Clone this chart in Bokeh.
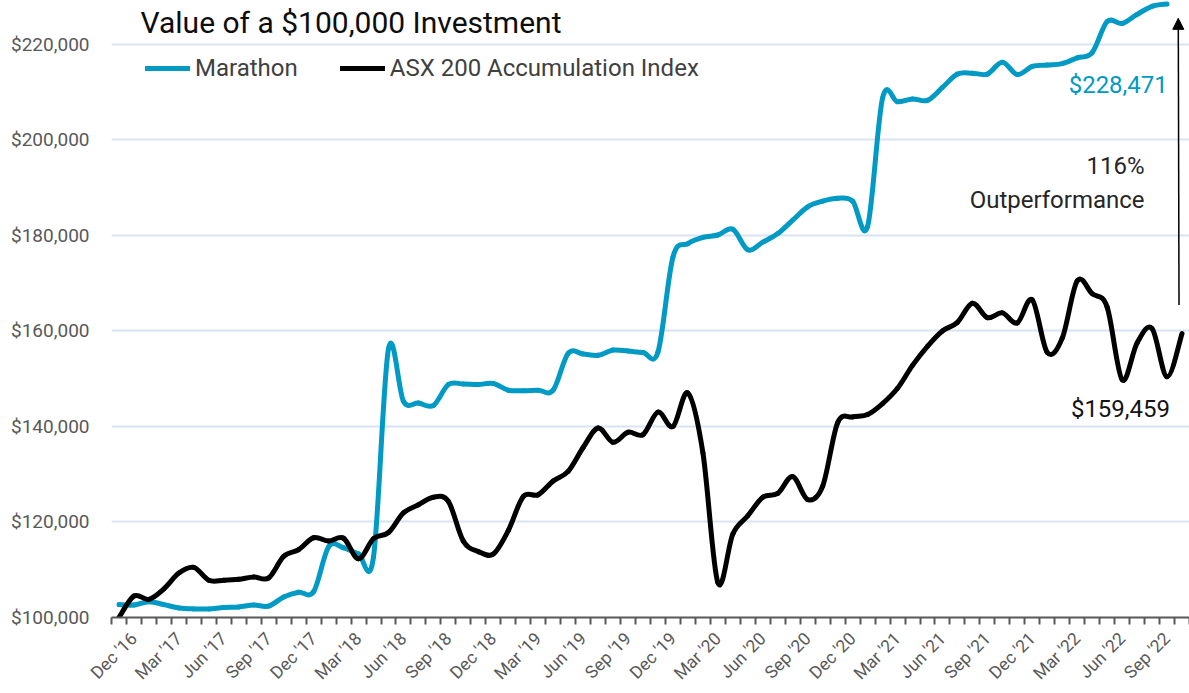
import math
from bokeh.plotting import figure
from bokeh.models import Range1d, FixedTicker, NumeralTickFormatter, Label, Arrow, NormalHead
from bokeh.embed import file_html
from bokeh.resources import INLINE

# ---------------- data (monthly, first point = Dec '16) ----------------
marathon = [102700, 102600, 103300, 102700, 102000, 101800, 101800, 102100, 102200, 102600,
            102400, 104300, 105300, 105400, 114800, 114600, 113300, 112700, 156300, 145300,
            144900, 144400, 148800, 148900, 148800, 149000, 147600, 147500, 147600, 147600,
            155300, 155200, 154900, 156000, 155800, 155500, 155600, 175500, 178300, 179600,
            180100, 181300, 177000, 178600, 180400, 183200, 186000, 187200, 187800, 187200,
            181900, 208800, 208000, 208600, 208300, 211000, 213800, 214000, 213800, 216300,
            213700, 215400, 215700, 216000, 217200, 218300, 224800, 224400, 226300, 228000,
            228471]

asx200 = [100000, 104500, 103800, 106000, 109300, 110500, 107800, 107800, 108000, 108500,
          108300, 112800, 114200, 116700, 116000, 116600, 112300, 116500, 117800, 121900,
          123600, 125200, 124300, 116000, 113800, 113300, 118200, 125300, 125700, 128600,
          130600, 135600, 139700, 136700, 138800, 138300, 143000, 140000, 147000, 134500,
          107300, 117500, 121300, 125200, 126000, 129500, 124700, 127500, 140800, 142000,
          142500, 144800, 148000, 152800, 156800, 160000, 161800, 165800, 162800, 163800,
          161700, 166500, 155500, 158500, 170500, 167800, 165000, 149800, 157500, 160500,
          150400, 159459]

tick_labels = ["Dec '16", "Mar '17", "Jun '17", "Sep '17", "Dec '17", "Mar '18", "Jun '18",
               "Sep '18", "Dec '18", "Mar '19", "Jun '19", "Sep '19", "Dec '19", "Mar '20",
               "Jun '20", "Sep '20", "Dec '20", "Mar '21", "Jun '21", "Sep '21", "Dec '21",
               "Mar '22", "Jun '22", "Sep '22"]

y_ticks = [100000, 120000, 140000, 160000, 180000, 200000, 220000]

BLUE = "#009ac4"
BLACK = "#000000"
FONT = "Roboto"


def smooth_segments(vals):
    """Cubic Bezier segments (Catmull-Rom style smoothing, like a smoothed Excel line)."""
    n = len(vals)
    xs = list(range(n))

    def P(i):
        i = max(0, min(n - 1, i))
        return xs[i], vals[i]

    seg = {k: [] for k in ("x0", "y0", "x1", "y1", "cx0", "cy0", "cx1", "cy1")}
    for i in range(n - 1):
        xa, ya = P(i)
        xb, yb = P(i + 1)
        xp, yp = P(i - 1)
        xn, yn = P(i + 2)
        seg["x0"].append(xa); seg["y0"].append(ya)
        seg["x1"].append(xb); seg["y1"].append(yb)
        seg["cx0"].append(xa + (xb - xp) / 6.0); seg["cy0"].append(ya + (yb - yp) / 6.0)
        seg["cx1"].append(xb - (xn - xa) / 6.0); seg["cy1"].append(yb - (yn - ya) / 6.0)
    return seg


n_cat = len(asx200)
p = figure(width=1189, height=693, output_backend="svg", toolbar_location=None,
           x_range=Range1d(-0.5, n_cat - 0.5), y_range=Range1d(100000, 229210),
           min_border_left=111, min_border_right=0, min_border_top=0, min_border_bottom=75)
p.outline_line_color = None
p.background_fill_color = "white"
p.border_fill_color = "white"

# ---- series ----
p.bezier(**smooth_segments(marathon), line_color=BLUE, line_width=5, line_cap="round",
         legend_label="Marathon")
p.bezier(**smooth_segments(asx200), line_color=BLACK, line_width=5, line_cap="round",
         legend_label="ASX 200 Accumulation Index")

# ---- axes ----
p.xgrid.visible = False
p.ygrid.grid_line_color = "#d9e3f4"
p.ygrid.grid_line_width = 2
p.ygrid.ticker = FixedTicker(ticks=y_ticks[1:])

yax = p.yaxis[0]
yax.ticker = FixedTicker(ticks=y_ticks)
yax.formatter = NumeralTickFormatter(format="$0,0")
yax.axis_line_color = None
yax.major_tick_line_color = None
yax.minor_tick_line_color = None
yax.major_label_standoff = 16
yax.major_label_text_font = FONT
yax.major_label_text_font_size = "19px"
yax.major_label_text_color = "#595959"

# labels every quarter; tick marks at every month boundary
label_pos = [1.0 + 3 * k for k in range(len(tick_labels))]
xax = p.xaxis[0]
xax.ticker = FixedTicker(ticks=label_pos, minor_ticks=[i - 0.5 for i in range(n_cat + 1)])
xax.major_label_overrides = {pos: lab for pos, lab in zip(label_pos, tick_labels)}
xax.major_label_orientation = math.pi / 4
xax.axis_line_color = "#595959"
xax.axis_line_width = 2
xax.major_tick_line_color = None
xax.minor_tick_line_color = "#595959"
xax.minor_tick_line_width = 2
xax.major_tick_in = 0
xax.minor_tick_in = 0
xax.major_tick_out = 7
xax.minor_tick_out = 7
xax.major_label_standoff = 11
xax.major_label_text_font = FONT
xax.major_label_text_font_size = "17.5px"
xax.major_label_text_color = "#595959"

# ---- legend ----
lg = p.legend[0]
lg.orientation = "horizontal"
lg.location = (34, 535)
lg.padding = 0
lg.margin = 0
lg.spacing = 42
lg.glyph_width = 45
lg.glyph_height = 24
lg.label_height = 24
lg.label_standoff = 5
lg.label_text_font = FONT
lg.label_text_font_size = "24px"
lg.label_text_color = "#404040"
lg.background_fill_alpha = 0
lg.border_line_alpha = 0

# ---- annotations ----
p.add_layout(Label(x=1.44, y=224600, text="Value of a $100,000 Investment", text_font=FONT,
                   text_font_size="30px", text_color="#0d0d0d", text_baseline="middle",
                   text_align="left"))

last_m = len(marathon) - 1
last_a = len(asx200) - 1
p.add_layout(Label(x=last_m + 0.05, y=marathon[-1] - 16900, text="$228,471", text_font=FONT,
                   text_font_size="24px", text_color=BLUE, text_baseline="middle",
                   text_align="right"))
p.add_layout(Label(x=last_a - 2.5, y=194500, text="116%", text_font=FONT,
                   text_font_size="24px", text_color="#262626", text_baseline="middle",
                   text_align="right"))
p.add_layout(Label(x=last_a - 2.5, y=187400, text="Outperformance", text_font=FONT,
                   text_font_size="24px", text_color="#262626", text_baseline="middle",
                   text_align="right"))
p.add_layout(Label(x=last_a - 0.8, y=asx200[-1] - 15800, text="$159,459", text_font=FONT,
                   text_font_size="24px", text_color="#141414", text_baseline="middle",
                   text_align="right"))
p.add_layout(Arrow(end=NormalHead(size=11, fill_color="black", line_color="black"),
                   x_start=last_a - 0.2, y_start=asx200[-1] + 6000,
                   x_end=last_a - 0.25, y_end=marathon[-1] - 3000,
                   line_color="black", line_width=1.5))

open("out.html", "w").write(file_html(p, INLINE))
